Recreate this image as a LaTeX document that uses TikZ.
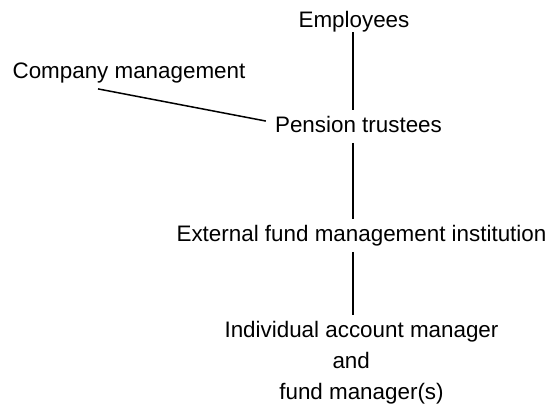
\documentclass[tikz,border=0pt]{standalone}
\usepackage{fontspec}
\setmainfont{Liberation Sans}
\begin{document}
\begin{tikzpicture}[x=1pt,y=-1pt,
  lbl/.style={font=\fontsize{22.4}{31}\selectfont, text height=16pt, text depth=4.7pt,
    inner xsep=9pt, inner ysep=6pt, anchor=base},
  link/.style={draw=black, line width=1.5pt}]
\useasboundingbox (0,0) rectangle (559,412);
\coordinate (spine) at (352.8,0);
\node[lbl] (emp) at (354,28) {Employees};
\node[lbl] (cm) at (129,78) {Company management};
\node[lbl] (pt) at (358.5,132) {Pension trustees};
\node[lbl] (ext) at (361.5,241) {External fund management institution};
\node[font=\fontsize{22.4}{31}\selectfont, align=center, inner xsep=9pt, inner ysep=6pt, anchor=north]
  (ind) at (361.5,315) {Individual account manager\\\makebox[58pt][l]{and}\\fund manager(s)};
\draw[link] ([yshift=6.5pt]emp.south -| spine) -- (pt.north -| spine);
\draw[link] ([xshift=-31pt]cm.south) -- ([yshift=5.3pt]pt.west);
\draw[link] (pt.south -| spine) -- (ext.north -| spine);
\draw[link] (ext.south -| spine) -- (ind.north -| spine);
\end{tikzpicture}
\end{document}
